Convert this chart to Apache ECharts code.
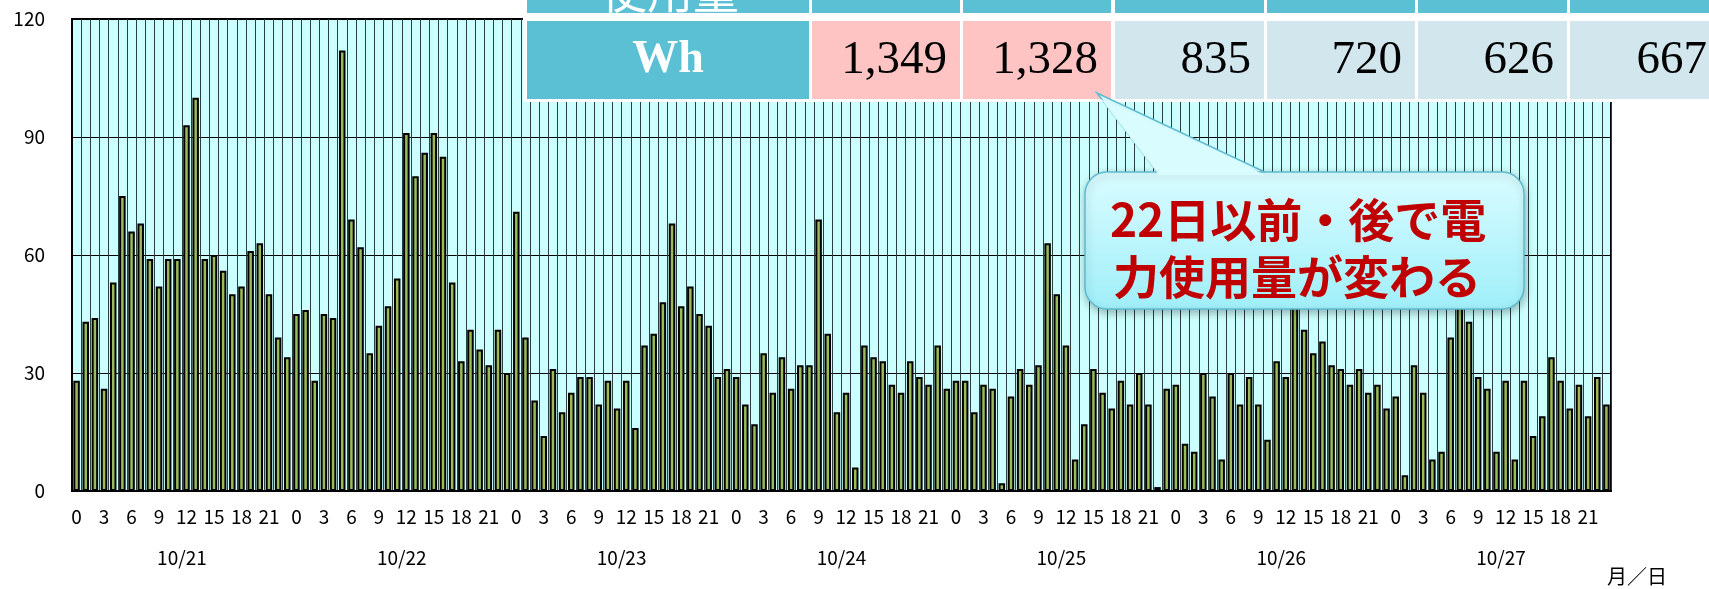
<!DOCTYPE html>
<html><head><meta charset="utf-8">
<script src="https://cdn.jsdelivr.net/npm/echarts@6/dist/echarts.min.js"></script>
<style>html,body{margin:0;padding:0;background:#fff}#c{width:1709px;height:589px}</style>
</head><body><div id="c"></div>
<script>
const days = ['10/21','10/22','10/23','10/24','10/25','10/26','10/27'];
const hours = ['0','1','2','3','4','5','6','7','8','9','10','11','12','13','14','15','16','17','18','19','20','21','22','23'];
const d1021 = [28,43,44,26,53,75,66,68,59,52,59,59,93,100,59,60,56,50,52,61,63,50,39,34];
const d1022 = [45,46,28,45,44,112,69,62,35,42,47,54,91,80,86,91,85,53,33,41,36,32,41,30];
const d1023 = [71,39,23,14,31,20,25,29,29,22,28,21,28,16,37,40,48,68,47,52,45,42,29,31];
const d1024 = [29,22,17,35,25,34,26,32,32,69,40,20,25,6,37,34,33,27,25,33,29,27,37,26];
const d1025 = [28,28,20,27,26,2,24,31,27,32,63,50,37,8,17,31,25,21,28,22,30,22,1,26];
const d1026 = [27,12,10,30,24,8,30,22,29,22,13,33,29,52,41,35,38,32,31,27,31,25,27,21];
const d1027 = [24,4,32,25,8,10,39,50,43,29,26,10,28,8,28,14,19,34,28,21,27,19,29,22];
const yTicks = [0,30,60,90,120];
const tableHeader = '使用量';
const tableUnit = 'Wh';
const tableValues = ['1,349','1,328','835','720','626','667'];
const calloutLines = ['22日以前・後で電','力使用量が変わる'];
const axisUnit = '月／日';

const dayData = [d1021,d1022,d1023,d1024,d1025,d1026,d1027];
const categories = [];
const values = [];
days.forEach((d,i)=>{ hours.forEach((h,j)=>{ categories.push(d+' '+h); values.push(dayData[i][j]); }); });

const FONT = "'Noto Sans CJK JP','Noto Sans',sans-serif";
const chart = echarts.init(document.getElementById('c'), null, {renderer:'canvas'});

const colX = [527,812,963,1115,1267,1418,1570];
const colW = [282,148,148,149,148,149,150];
const BLUE = '#5cc0d5', PINK = '#fec3c3', GREY = '#d1e6ed';
const g = [];
g.push({type:'rect', z:100, shape:{x:523,y:0,width:1190,height:102}, style:{fill:'#fff'}});
colX.forEach((x,i)=>{
  g.push({type:'rect', z:101, shape:{x:x,y:0,width:colW[i],height:13}, style:{fill:BLUE}});
  g.push({type:'rect', z:101, shape:{x:x,y:21,width:colW[i],height:78}, style:{fill: i===0?BLUE:(i<=2?PINK:GREY)}});
});
g.push({type:'text', z:102, style:{text:tableHeader, x:670, y:-9, font:"46px "+FONT, fill:'#fff', align:'center', verticalAlign:'middle', textAlign:'center', textVerticalAlign:'middle'}});
g.push({type:'rect', z:103, shape:{x:523,y:13,width:1190,height:8}, style:{fill:'#fff'}});
g.push({type:'text', z:102, style:{text:tableUnit, x:668, y:60, font:"bold 46px 'Liberation Serif',serif", fill:'#fff', align:'center', verticalAlign:'middle', textAlign:'center', textVerticalAlign:'middle'}});
tableValues.forEach((v,i)=>{
  const x = colX[i+1]+colW[i+1]-13;
  g.push({type:'text', z:102, style:{text:v, x:x, y:61, font:"47px 'Liberation Serif',serif", fill:'#000', align:'right', verticalAlign:'middle', textAlign:'right', textVerticalAlign:'middle'}});
});
const grad = {type:'linear',x:0,y:0,x2:0,y2:1,colorStops:[{offset:0,color:'#d9fcff'},{offset:1,color:'#a0eff9'}]};
const tailGrad = {type:'linear',x:0,y:0,x2:0,y2:1,colorStops:[{offset:0,color:'#d2f9fd'},{offset:1,color:'#d9fcff'}]};
g.push({type:'polygon', z:110, shape:{points:[[1097,93],[1158,173],[1267,173]]}, style:{fill:tailGrad, stroke:'#5dbbd0', lineWidth:1.5}});
g.push({type:'rect', z:111, shape:{x:1085,y:172,width:439,height:137,r:22}, style:{fill:grad, stroke:'#5dbbd0', lineWidth:1.5, shadowBlur:8, shadowColor:'rgba(0,0,0,0.3)', shadowOffsetY:3, shadowOffsetX:1}});
g.push({type:'polygon', z:112, shape:{points:[[1101,99],[1159,175],[1265,175]]}, style:{fill:'#d9fcff'}});
g.push({type:'text', z:113, style:{text:calloutLines[0], x:1110, y:220, font:"bold 46px "+FONT, fill:'#c00000', align:'left', verticalAlign:'middle', textAlign:'left', textVerticalAlign:'middle'}});
g.push({type:'text', z:113, style:{text:calloutLines[1], x:1113, y:277, font:"bold 46px "+FONT, fill:'#c00000', align:'left', verticalAlign:'middle', textAlign:'left', textVerticalAlign:'middle'}});
g.push({type:'text', z:100, style:{text:axisUnit, x:1637, y:576, font:"20px "+FONT, fill:'#000', align:'center', verticalAlign:'middle', textAlign:'center', textVerticalAlign:'middle'}});

chart.setOption({
  animation:false,
  backgroundColor:'#fff',
  grid:{left:72,right:98,top:19,bottom:98,show:true,backgroundColor:'#ccffff',borderColor:'#000',borderWidth:2},
  xAxis:[{
    type:'category', data:categories, boundaryGap:true,
    axisLine:{lineStyle:{color:'#000',width:2}},
    axisTick:{show:false},
    axisLabel:{interval:2, margin:16, color:'#000', fontSize:19, fontFamily:FONT, formatter:(v)=>v.split(' ')[1]},
    splitLine:{show:true, interval:0, lineStyle:{color:'#2a3f3f',width:1}}
  },{
    type:'category', data:days, position:'bottom', offset:40,
    axisLine:{show:false}, axisTick:{show:false}, splitLine:{show:false},
    axisLabel:{interval:0, margin:17, color:'#000', fontSize:19, fontFamily:FONT}
  }],
  yAxis:{
    type:'value', min:yTicks[0], max:yTicks[yTicks.length-1], interval:30,
    axisLine:{show:true,lineStyle:{color:'#000',width:2}},
    axisTick:{show:false},
    axisLabel:{margin:27, color:'#000', fontSize:19, fontFamily:FONT},
    splitLine:{show:true,lineStyle:{color:'#000',width:1}}
  },
  series:[{
    type:'bar', data:values, xAxisIndex:0, barWidth:6.5,
    itemStyle:{color:'#9bbb59', borderColor:'#000', borderWidth:2},
    z:2
  }],
  graphic:{elements:g}
});
</script></body></html>
